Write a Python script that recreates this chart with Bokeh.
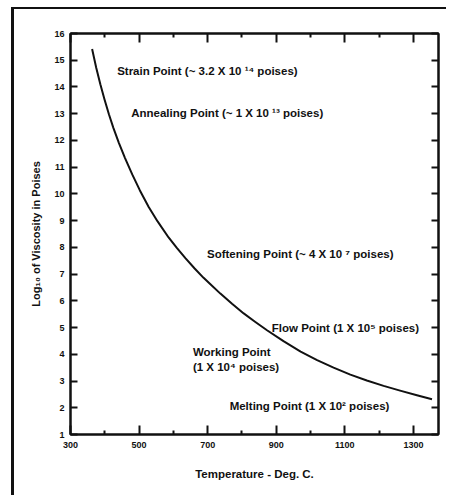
from bokeh.plotting import figure
from bokeh.models import Range1d, FixedTicker, LinearAxis, ColumnDataSource
from bokeh.core.properties import value
from bokeh.embed import file_html
from bokeh.resources import INLINE

# Viscosity curve
temperature = [363, 375, 387, 399, 412, 425, 441, 459, 480, 502, 528, 554, 586, 610, 635, 662,
               688, 708, 737, 771, 805, 839, 873, 921, 971, 1019, 1067, 1116, 1164, 1213, 1261, 1310, 1354]
log_viscosity = [15.42, 14.72, 14.10, 13.54, 12.98, 12.47, 11.91, 11.34, 10.73, 10.14, 9.51, 8.97, 8.37, 7.98,
                 7.60, 7.21, 6.86, 6.62, 6.27, 5.89, 5.53, 5.21, 4.90, 4.49, 4.10, 3.78, 3.50, 3.24, 3.02,
                 2.82, 2.64, 2.47, 2.32]

# Annotations
label_text = [
    "Strain Point (~ 3.2 X 10 \u00b9\u2074 poises)",
    "Annealing Point (~ 1 X 10 \u00b9\u00b3 poises)",
    "Softening Point (~ 4 X 10 \u2077 poises)",
    "Flow Point (1 X 10\u2075 poises)",
    "Working Point",
    "(1 X 10\u2074 poises)",
    "Melting Point (1 X 10\u00b2 poises)",
]
label_x = [436, 477, 698, 887, 657, 657, 764]
label_y = [14.61, 13.01, 7.75, 4.99, 4.07, 3.54, 2.08]

# Axis ticks
x_major_ticks = [300, 500, 700, 900, 1100, 1300]
x_minor_ticks = [400, 600, 800, 1000, 1200]
y_ticks = list(range(1, 17))
x_limits = (300, 1373)
y_limits = (1, 16)

FONT = "Liberation Sans"
INK = "#111111"

p = figure(width=435, height=488, output_backend="svg", toolbar_location=None,
           x_range=Range1d(*x_limits), y_range=Range1d(*y_limits),
           min_border_left=56, min_border_right=11, min_border_top=24, min_border_bottom=63,
           x_axis_location=None, y_axis_location=None)
p.grid.visible = False
p.outline_line_color = INK
p.outline_line_width = 2
p.background_fill_color = "white"
p.border_fill_color = "white"
p.styles = {"margin-left": "11px", "margin-top": "7px",
            "border-top": "2px solid #111", "border-left": "3px solid #111"}

def style_common(ax):
    ax.axis_line_width = 2
    ax.axis_line_color = INK
    ax.major_tick_out = 0
    ax.minor_tick_out = 0
    ax.major_tick_line_width = 2
    ax.minor_tick_line_width = 2
    ax.major_tick_line_color = INK
    ax.minor_tick_line_color = INK
    ax.major_label_text_font = FONT
    ax.major_label_text_font_style = "bold"

def make_x_axis(show_labels):
    ax = LinearAxis(ticker=FixedTicker(ticks=x_major_ticks, minor_ticks=x_minor_ticks))
    style_common(ax)
    ax.major_tick_in = 9
    ax.minor_tick_in = 4
    if show_labels:
        ax.major_label_text_color = INK
        ax.major_label_text_font_size = "9px"
        ax.major_label_standoff = 7
        ax.axis_label = "Temperature - Deg. C."
        ax.axis_label_text_font = FONT
        ax.axis_label_text_font_style = "bold"
        ax.axis_label_text_font_size = "11.5px"
        ax.axis_label_text_color = INK
        ax.axis_label_standoff = 17
    else:
        ax.major_label_text_color = None
        ax.major_label_standoff = 0
    return ax

def make_y_axis(show_labels):
    ax = LinearAxis(ticker=FixedTicker(ticks=y_ticks, minor_ticks=[]))
    style_common(ax)
    ax.major_tick_in = 7
    ax.minor_tick_in = 0
    if show_labels:
        ax.major_label_text_color = INK
        ax.major_label_text_font_size = "9px"
        ax.major_label_standoff = 6
        ax.axis_label = "Log\u2081\u2080 of Viscosity in Poises"
        ax.axis_label_text_font = FONT
        ax.axis_label_text_font_style = "bold"
        ax.axis_label_text_font_size = "11px"
        ax.axis_label_text_color = INK
        ax.axis_label_standoff = 9
    else:
        ax.major_label_text_color = None
        ax.major_label_standoff = 0
    return ax

p.add_layout(make_x_axis(True), "below")
p.add_layout(make_x_axis(False), "above")
p.add_layout(make_y_axis(True), "left")
p.add_layout(make_y_axis(False), "right")

curve = ColumnDataSource(dict(x=temperature, y=log_viscosity))
p.line("x", "y", source=curve, line_color=INK, line_width=2, line_join="round")

labels = ColumnDataSource(dict(x=label_x, y=label_y, text=label_text))
p.text("x", "y", text="text", source=labels, text_font=value(FONT), text_font_style="bold",
       text_font_size="11.5px", text_align="left", text_baseline="middle", text_color=INK)

open("out.html", "w").write(file_html(p, INLINE))
